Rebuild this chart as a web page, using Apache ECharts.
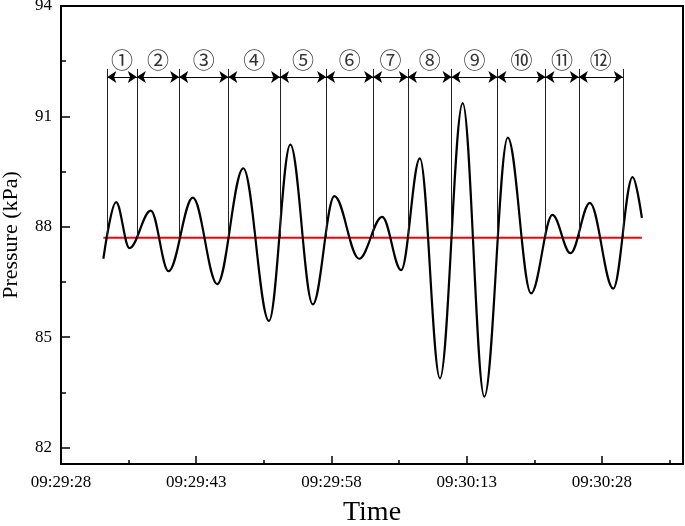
<!DOCTYPE html>
<html><head><meta charset="utf-8">
<script src="https://cdn.jsdelivr.net/npm/echarts@6/dist/echarts.min.js"></script>
<style>html,body{margin:0;padding:0;background:#fff}#c{width:685px;height:526px}</style>
</head><body><div id="c"></div>
<script>
// seconds after 09:29:28
const timeSec = [4.7, 6.11, 7.59, 9.96, 11.93, 14.63, 17.33, 20.22, 23.07, 25.44, 27.93, 30.33, 33.07, 35.63, 37.74, 39.81, 42.04, 44.56, 46.96, 49.56, 52.15, 54.52, 56.52, 58.67, 61.26, 63.41, 64.44];
const pressure = [87.13, 88.67, 87.42, 88.44, 86.79, 88.79, 86.44, 89.59, 85.44, 90.23, 85.89, 88.83, 87.13, 88.27, 86.82, 89.86, 83.88, 91.36, 83.38, 90.42, 86.19, 88.32, 87.28, 88.65, 86.32, 89.35, 88.24];
const referenceLevel = 87.70;
const referenceSpan = [4.7, 64.44];
const cycleBounds = [5.14, 8.41, 13.11, 18.56, 24.3, 29.41, 34.63, 38.48, 43.33, 48.41, 53.74, 57.44, 62.33];
const cycleLabels = ['①','②','③','④','⑤','⑥','⑦','⑧','⑨','⑩','⑪','⑫'];
const xTicks = [0, 15, 30, 45, 60];
const xTickLabels = ['09:29:28', '09:29:43', '09:29:58', '09:30:13', '09:30:28'];
const yTicks = [82, 85, 88, 91, 94];
const yMinorTicks = [83.5, 86.5, 89.5, 92.5];

const boundTop = 92.29;
const arrowLevel = 92.07;
const labelLevel = 92.55;

const chart = echarts.init(document.getElementById('c'), null, {renderer: 'canvas'});
const serif = 'Liberation Serif';

const curve = timeSec.map((t, i) => [t, pressure[i]]);
const refLine = referenceSpan.map(t => [t, referenceLevel]);
const vLines = cycleBounds.map(t => [{coord: [t, referenceLevel]}, {coord: [t, boundTop]}]);
const arrows = [];
for (let i = 0; i < cycleBounds.length - 1; i++) {
  arrows.push([{coord: [cycleBounds[i], arrowLevel]}, {coord: [cycleBounds[i + 1], arrowLevel]}]);
}
const labelPts = cycleLabels.map((s, i) => ({name: s, value: [(cycleBounds[i] + cycleBounds[i + 1]) / 2, labelLevel]}));

chart.setOption({
  animation: false,
  grid: {left: 61, right: 2, top: 6, bottom: 62, show: true, borderColor: '#000', borderWidth: 2,
    backgroundColor: 'transparent', containLabel: false, outerBoundsMode: 'none'},
  xAxis: {
    type: 'value', min: 0, max: 69, interval: 15,
    name: 'Time', nameLocation: 'middle', nameGap: 35,
    nameTextStyle: {fontFamily: serif, fontSize: 28, color: '#000'},
    axisLine: {show: true, lineStyle: {color: '#000', width: 2}},
    axisTick: {show: true, inside: true, length: 8, lineStyle: {color: '#000', width: 1.5}},
    minorTick: {show: true, splitNumber: 2, length: 4, lineStyle: {color: '#000', width: 1.5}},
    axisLabel: {fontFamily: serif, fontSize: 17, color: '#000', margin: 10,
      formatter: v => { const k = xTicks.indexOf(v); return k >= 0 ? xTickLabels[k] : ''; }},
    splitLine: {show: false}
  },
  yAxis: [{
    type: 'value', min: 81.55, max: 94,
    name: 'Pressure (kPa)', nameLocation: 'middle', nameGap: 39,
    nameTextStyle: {fontFamily: serif, fontSize: 22, color: '#000'},
    axisLine: {show: true, lineStyle: {color: '#000', width: 2}},
    axisTick: {show: true, inside: true, length: 9, customValues: yTicks, lineStyle: {color: '#000', width: 1.5}},
    axisLabel: {fontFamily: serif, fontSize: 17, color: '#000', margin: 9, customValues: yTicks},
    splitLine: {show: false}
  }, {
    type: 'value', min: 81.55, max: 94, position: 'left',
    axisLine: {show: false},
    axisTick: {show: true, inside: true, length: 5, customValues: yMinorTicks, lineStyle: {color: '#000', width: 1.5}},
    axisLabel: {show: false},
    splitLine: {show: false}
  }],
  series: [
    {type: 'line', data: refLine, showSymbol: false, lineStyle: {color: '#ff0000', width: 2}, silent: true, z: 3},
    {type: 'line', data: [], silent: true,
      markLine: {silent: true, symbol: ['none', 'none'], label: {show: false},
        lineStyle: {color: '#222', width: 1, type: 'solid'}, data: vLines}},
    {type: 'line', data: [], silent: true,
      markLine: {silent: true, symbol: ['arrow', 'arrow'], symbolSize: 9, label: {show: false},
        lineStyle: {color: '#000', width: 1, type: 'solid'}, data: arrows}},
    {type: 'scatter', data: labelPts, symbolSize: 1, itemStyle: {color: 'rgba(0,0,0,0)'}, silent: true,
      label: {show: true, position: 'inside', formatter: p => p.name, fontFamily: 'Noto Sans CJK SC', fontSize: 22, color: '#000'}},
    {type: 'line', data: curve, smooth: 0.36, smoothMonotone: 'x', showSymbol: false,
      lineStyle: {color: '#000', width: 2.2}, silent: true, z: 4}
  ]
});
</script>
</body></html>
